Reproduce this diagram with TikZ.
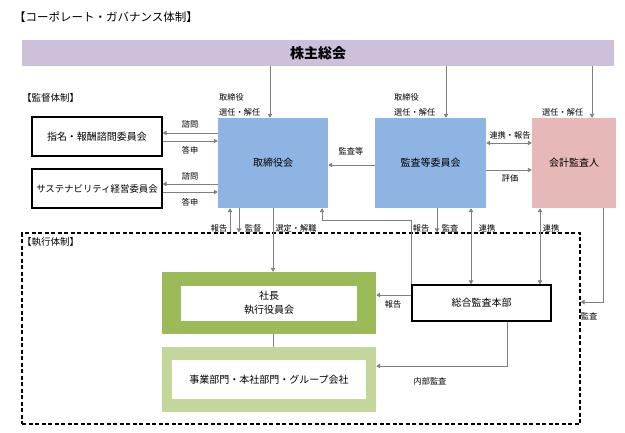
\documentclass[tikz,border=0pt]{standalone}
\usepackage{fontspec}
\setmainfont{Noto Sans CJK JP}
\usepackage{tikz}
\usetikzlibrary{positioning}
\usetikzlibrary{arrows.meta}
\definecolor{kabucol}{HTML}{CCC0DA}
\definecolor{bluecol}{HTML}{8DB4E2}
\definecolor{pinkcol}{HTML}{E6B8B7}
\definecolor{greencol}{HTML}{9BBB59}
\definecolor{lgreencol}{HTML}{C3D69B}
\definecolor{arrcol}{HTML}{808080}

\begin{document}
\begin{tikzpicture}[x=1pt, y=-1pt,
every node/.style = {inner sep=0pt, font=\fontsize{10}{12}\selectfont},
  lbl/.style = {font=\fontsize{8.2}{15}\selectfont, align=left},
  blk/.style = {draw, line width=1.3pt, minimum width=130pt, minimum height=39pt},
  bluebox/.style = {fill=bluecol, minimum width=110pt, minimum height=90pt},
  arr/.style = {draw=arrcol, line width=0.9pt, >={Triangle[length=4pt,width=4.5pt]}}
]
\useasboundingbox (0,0) rectangle (625,432);
% x and y levels of the connectors
\coordinate (c1) at (270,0);
\coordinate (c2) at (446,0);
\coordinate (c3) at (592,0);
\coordinate (r1) at (230,0);
\coordinate (r2) at (239,0);
\coordinate (r4) at (322,0);
\coordinate (r5) at (437,0);
\coordinate (r6) at (471,0);
\coordinate (r7) at (540,0);
\coordinate (r8) at (603,0);
\coordinate (r9) at (507,0);
\coordinate (h1) at (0,133);
\coordinate (h2) at (0,141);
\coordinate (h3) at (0,184);
\coordinate (h4) at (0,192);
\coordinate (h5) at (0,165);
\coordinate (h6) at (0,143);
\coordinate (h7) at (0,170);
\coordinate (h8) at (0,220);
\coordinate (h9) at (0,295);
\coordinate (h10) at (0,366);
\coordinate (h11) at (0,302);

\node[anchor=west, font=\fontsize{11.5}{13}\selectfont] (title) at (14,17) {【コーポレート・ガバナンス体制】};
\node[fill=kabucol, minimum width=592pt, minimum height=26pt, font=\fontsize{14}{16}\selectfont\bfseries] (kabu) at (318,53) {株主総会};
\node[anchor=west, font=\fontsize{9.5}{12}\selectfont] (kantoku) at (22,98) {【監督体制】};
\node[blk] (shimei) at (97,136.5) {指名・報酬諮問委員会};
\node[blk, font=\fontsize{9.4}{12}\selectfont] (sust) at (97,188.5) {サステナビリティ経営委員会};
\node[bluebox] (tb) at (273,163) {取締役会};
\node[bluebox, minimum width=111pt] (kansa) at (430.5,163) {監査等委員会};
\node[fill=pinkcol, minimum width=84pt, minimum height=90pt] (kaikei) at (574,163) {会計監査人};

\node[draw, line width=1.2pt, dash pattern=on 4pt off 2.5pt, minimum width=558pt, minimum height=191pt] (exec) at (301,328.5) {};
\node[anchor=west, font=\fontsize{9.5}{12}\selectfont] (shikko) at (22,242) {【執行体制】};
\node[fill=greencol, minimum width=214pt, minimum height=62pt] (shacho) at (269,303) {};
\node[fill=white, minimum width=176pt, minimum height=35pt, align=center, font=\fontsize{10}{14}\selectfont] (shachoin) at (shacho) {社長\\執行役員会};
\node[fill=lgreencol, minimum width=214pt, minimum height=65pt] (jigyo) at (269,379.5) {};
\node[fill=white, minimum width=194pt, minimum height=39pt] (jigyoin) at (jigyo) {事業部門・本社部門・グループ会社};
\node[blk, minimum width=139pt, minimum height=36pt] (sogo) at (481.5,303) {総合監査本部};

\draw[arr, ->] (kabu.south -| c1) -- (tb.north -| c1);
\draw[arr, ->] (kabu.south -| c2) -- (kansa.north -| c2);
\draw[arr, ->] (kabu.south -| c3) -- (kaikei.north -| c3);
\draw[arr, ->] (tb.west |- h1) -- (shimei.east |- h1);
\draw[arr, ->] (shimei.east |- h2) -- (tb.west |- h2);
\draw[arr, ->] (tb.west |- h3) -- (sust.east |- h3);
\draw[arr, ->] (sust.east |- h4) -- (tb.west |- h4);
\draw[arr, ->] (kansa.west |- h5) -- (tb.east |- h5);
\draw[arr, <->] (kansa.east |- h6) -- (kaikei.west |- h6);
\draw[arr, ->] (kansa.east |- h7) -- (kaikei.west |- h7);
\draw[arr, ->] (exec.north -| r1) -- (tb.south -| r1);
\draw[arr, ->] (tb.south -| r2) -- (exec.north -| r2);
\draw[arr, ->] (tb.south) -- (shacho.north -| tb.south);
\draw[arr, ->] (sogo.north west) -- (sogo.north west |- h8) -- (r4 |- h8) -- (tb.south -| r4);
\draw[arr, ->] (kansa.south -| r5) -- (exec.north -| r5);
\draw[arr, <->] (kansa.south -| r6) -- (sogo.north -| r6);
\draw[arr, <->] (kaikei.south -| r7) -- (sogo.north -| r7);
\draw[arr, ->] (kaikei.south -| r8) |- (exec.east |- h11);
\draw[arr, ->] (sogo.west |- h9) -- (shacho.east |- h9);
\draw[arr] (shacho.south -| tb.south) -- (jigyo.north -| tb.south);
\draw[arr, ->] (sogo.south -| r9) |- (jigyo.east |- h10);

\node[lbl, anchor=west] (l1) at (219,105) {取締役\\選任・解任};
\node[lbl, anchor=west] (l2) at (394,105) {取締役\\選任・解任};
\node[lbl, anchor=west] (l3) at (542,112) {選任・解任};
\node[lbl] (l4) at (190,124) {諮問};
\node[lbl] (l5) at (190,150) {答申};
\node[lbl] (l6) at (190,176) {諮問};
\node[lbl] (l7) at (190,202) {答申};
\node[lbl] (l8) at (351,151) {監査等};
\node[lbl] (l9) at (510,135) {連携・報告};
\node[lbl] (l10) at (510,178) {評価};
\node[lbl] (l11) at (219,228) {報告};
\node[lbl] (l12) at (253,228) {監督};
\node[lbl] (l13) at (296,228) {選定・解職};
\node[lbl] (l14) at (421,228) {報告};
\node[lbl] (l15) at (450,228) {監査};
\node[lbl] (l16) at (487,228) {連携};
\node[lbl] (l17) at (551,228) {連携};
\node[lbl] (l18) at (589,316) {監査};
\node[lbl] (l19) at (393,304) {報告};
\node[lbl] (l20) at (430,381) {内部監査};
\end{tikzpicture}
\end{document}
